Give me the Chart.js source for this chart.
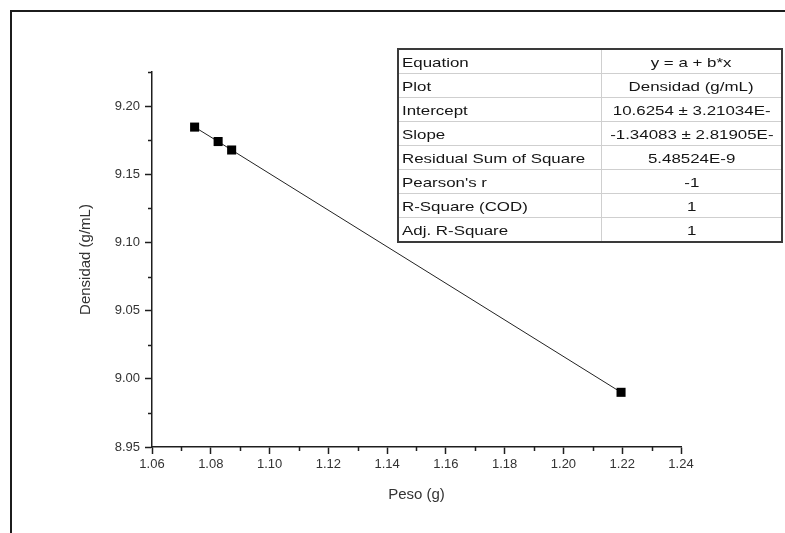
<!DOCTYPE html>
<html>
<head>
<meta charset="utf-8">
<script src="https://cdn.jsdelivr.net/npm/chart.js@4.4.1/dist/chart.umd.min.js"></script>
<style>
    html, body { margin: 0; padding: 0; background: #fff; }
    #wrap { position: relative; width: 785px; height: 533px; overflow: hidden; }
    #frame {
        position: absolute; left: 10px; top: 10px; right: -4px; bottom: -4px;
        border-left: 2px solid #1c1c1c; border-top: 2px solid #1c1c1c;
    }
    #chart { position: absolute; left: 0; top: 0; }
    #fit {
        position: absolute; left: 397px; top: 48px; width: 386px; height: 195px;
        border-collapse: collapse; border: 2px solid #3a3a3a;
        font-family: "Liberation Sans", Arial, sans-serif; font-size: 13px; color: #151515;
    }
    #fit td { border: 1px solid #cfcfcf; padding: 1px 0 0 3px; height: 22px; white-space: nowrap; }
    #fit td:first-child { width: 199px; }
    #fit td:last-child { text-align: center; padding-left: 0; }
    #fit span { display: inline-block; transform: scaleX(1.3); }
    #fit td:first-child span { transform-origin: left center; }
    #fit td:last-child span { transform-origin: center center; }
</style>
</head>
<body>
<div id="wrap">
    <div id="frame"></div>
    <canvas id="chart" width="785" height="533"></canvas>
    <table id="fit"></table>
</div>
<script>
const pesoValues = [1.0745, 1.0825, 1.0871, 1.2196];
const densidadValues = [9.1846, 9.1740, 9.1678, 8.9901];

const xTicks = [1.06, 1.08, 1.10, 1.12, 1.14, 1.16, 1.18, 1.20, 1.22, 1.24];
const yTicks = [8.95, 9.00, 9.05, 9.10, 9.15, 9.20];

const fitLabels = ["Equation", "Plot", "Intercept", "Slope", "Residual Sum of Square", "Pearson's r", "R-Square (COD)", "Adj. R-Square"];
const fitValues = ["y = a + b*x", "Densidad (g/mL)", "10.6254 \u00b1 3.21034E-", "-1.34083 \u00b1 2.81905E-", "5.48524E-9", "-1", "1", "1"];

// fit summary table
const table = document.getElementById("fit");
function addCell(row, text) {
    const span = document.createElement("span");
    span.textContent = text;
    row.insertCell().appendChild(span);
}
fitLabels.forEach((label, i) => {
    const row = table.insertRow();
    addCell(row, label);
    addCell(row, fitValues[i]);
});

const axisColor = "#1e1e1e";
const textColor = "#333333";
const fontFamily = "'Liberation Sans', Arial, sans-serif";

function isMajor(value, list) {
    return list.some((t) => Math.abs(t - value) < 1e-6);
}

// short minor ticks between the labelled ones
const minorTicks = {
    id: "minorTicks",
    afterDraw(chart) {
        const ctx = chart.ctx;
        const x = chart.scales.x;
        const y = chart.scales.y;
        ctx.save();
        ctx.strokeStyle = axisColor;
        ctx.lineWidth = 1.5;
        ctx.beginPath();
        x.ticks.forEach((t) => {
            if (isMajor(t.value, xTicks)) return;
            const px = Math.round(x.getPixelForValue(t.value)) + 0.5;
            ctx.moveTo(px, y.bottom);
            ctx.lineTo(px, y.bottom + 4);
        });
        y.ticks.forEach((t) => {
            if (isMajor(t.value, yTicks)) return;
            const py = Math.round(y.getPixelForValue(t.value)) + 0.5;
            ctx.moveTo(x.left, py);
            ctx.lineTo(x.left - 4, py);
        });
        ctx.stroke();
        ctx.restore();
    }
};

new Chart(document.getElementById("chart"), {
    type: "scatter",
    data: {
        datasets: [{
            data: pesoValues.map((v, i) => ({ x: v, y: densidadValues[i] })),
            showLine: true,
            borderColor: "#222222",
            borderWidth: 1,
            pointStyle: "rect",
            pointRadius: 6.4,
            pointBackgroundColor: "#000000",
            pointBorderColor: "#000000",
            pointBorderWidth: 0
        }]
    },
    options: {
        responsive: false,
        animation: false,
        layout: {
            padding: { top: 72, right: 104, left: 0, bottom: 0 }
        },
        scales: {
            x: {
                type: "linear",
                min: 1.06,
                max: 1.24,
                afterFit: (scale) => { scale.height = 86; },
                border: { display: true, color: axisColor, width: 1.5 },
                grid: {
                    drawOnChartArea: false,
                    drawTicks: true,
                    tickLength: 7,
                    tickWidth: 1.5,
                    tickColor: (ctx) => isMajor(ctx.tick.value, xTicks) ? axisColor : "rgba(0,0,0,0)"
                },
                ticks: {
                    stepSize: 0.01,
                    autoSkip: false,
                    maxRotation: 0,
                    padding: 3,
                    color: textColor,
                    font: { family: fontFamily, size: 13 },
                    callback: (value) => isMajor(value, xTicks) ? value.toFixed(2) : ""
                },
                title: {
                    display: true,
                    text: "Peso (g)",
                    color: textColor,
                    font: { family: fontFamily, size: 15 },
                    padding: { top: 0, bottom: 29 }
                }
            },
            y: {
                type: "linear",
                min: 8.95,
                max: 9.225,
                afterFit: (scale) => { scale.width = 152; },
                border: { display: true, color: axisColor, width: 1.5 },
                grid: {
                    drawOnChartArea: false,
                    drawTicks: true,
                    tickLength: 7,
                    tickWidth: 1.5,
                    tickColor: (ctx) => isMajor(ctx.tick.value, yTicks) ? axisColor : "rgba(0,0,0,0)"
                },
                ticks: {
                    stepSize: 0.025,
                    autoSkip: false,
                    padding: 5,
                    color: textColor,
                    font: { family: fontFamily, size: 13 },
                    callback: (value) => isMajor(value, yTicks) ? value.toFixed(2) : ""
                },
                title: {
                    display: true,
                    text: "Densidad (g/mL)",
                    color: textColor,
                    font: { family: fontFamily, size: 15 },
                    padding: { top: 77, bottom: 0 }
                }
            }
        },
        plugins: {
            legend: { display: false },
            tooltip: { enabled: false }
        }
    },
    plugins: [minorTicks]
});
</script>
</body>
</html>
